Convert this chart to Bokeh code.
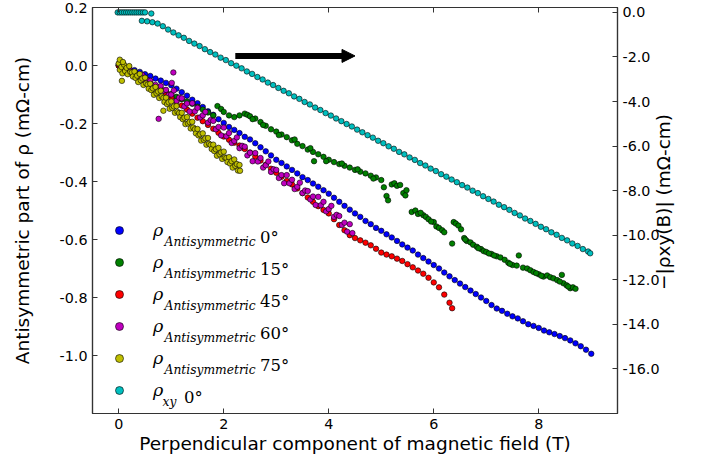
import math
from bokeh.plotting import figure
from bokeh.models import (Range1d, LinearAxis, FixedTicker, PrintfTickFormatter,
                          CustomJSTickFormatter, Legend, LegendItem, Label, Arrow, NormalHead)
from bokeh.embed import file_html
from bokeh.resources import INLINE

# ---------------- data ----------------
X_TICKS = [0, 2, 4, 6, 8]
LEFT_TICKS = [0.2, 0.0, -0.2, -0.4, -0.6, -0.8, -1.0]
RIGHT_TICKS = [0, -2, -4, -6, -8, -10, -12, -14, -16]

BLUE_X = [0.0, 0.1, 0.2, 0.3, 0.4, 0.5, 0.6, 0.7, 0.8, 0.9,
          1.0, 1.1, 1.2, 1.3, 1.4, 1.5, 1.6, 1.7, 1.8, 1.9,
          2.0, 2.1, 2.2, 2.3, 2.4, 2.5, 2.6, 2.7, 2.8, 2.9,
          3.0, 3.1, 3.2, 3.3, 3.4, 3.5, 3.6, 3.7, 3.8, 3.9,
          4.0, 4.1, 4.2, 4.3, 4.4, 4.5, 4.6, 4.7, 4.8, 4.9,
          5.0, 5.1, 5.2, 5.3, 5.4, 5.5, 5.6, 5.7, 5.8, 5.9,
          6.0, 6.1, 6.2, 6.3, 6.4, 6.5, 6.6, 6.7, 6.8, 6.9,
          7.0, 7.1, 7.2, 7.3, 7.4, 7.5, 7.6, 7.7, 7.8, 7.9,
          8.0, 8.1, 8.2, 8.3, 8.4, 8.5, 8.6, 8.7, 8.8, 8.9, 9.0]
BLUE_Y = [0.000, -0.004, -0.010, -0.016, -0.022, -0.030, -0.036, -0.045, -0.052, -0.060,
          -0.068, -0.080, -0.092, -0.104, -0.118, -0.130, -0.143, -0.158, -0.170, -0.185,
          -0.198, -0.212, -0.222, -0.233, -0.246, -0.255, -0.268, -0.282, -0.296, -0.310,
          -0.325, -0.336, -0.348, -0.360, -0.372, -0.385, -0.395, -0.407, -0.418, -0.430,
          -0.442, -0.456, -0.470, -0.484, -0.497, -0.510, -0.522, -0.536, -0.547, -0.560,
          -0.570, -0.582, -0.593, -0.605, -0.617, -0.628, -0.638, -0.652, -0.664, -0.676,
          -0.688, -0.700, -0.714, -0.727, -0.740, -0.752, -0.764, -0.776, -0.788, -0.800,
          -0.812, -0.826, -0.838, -0.846, -0.856, -0.865, -0.872, -0.882, -0.892, -0.898,
          -0.905, -0.914, -0.920, -0.926, -0.933, -0.940, -0.948, -0.958, -0.968, -0.980, -0.994]

GREEN_X = [0.0, 0.1, 0.2, 0.3, 0.4, 0.5, 0.6, 0.7, 0.8, 0.9,
           1.0, 1.1, 1.2, 1.3, 1.4, 1.5, 1.6, 1.7, 1.8, 1.88,
           1.95, 2.0, 2.1, 2.2, 2.3, 2.4, 2.45, 2.5, 2.6, 2.7,
           2.8, 2.9, 3.0, 3.1, 3.2, 3.3, 3.4, 3.5, 3.6, 3.7,
           3.72, 3.8, 3.9, 4.0, 4.1, 4.2, 4.3, 4.4, 4.5, 4.6,
           4.7, 4.8, 4.9, 5.0, 5.05, 5.1, 5.13, 5.2, 5.25, 5.3,
           5.36, 5.42, 5.46, 5.48, 5.58, 5.65, 5.7, 5.8, 5.85, 5.9,
           6.0, 6.05, 6.1, 6.16, 6.2, 6.35, 6.38, 6.42, 6.47, 6.52,
           6.58, 6.63, 6.7, 6.75, 6.82, 6.9, 6.95, 7.0, 7.1, 7.2,
           7.27, 7.35, 7.42, 7.5, 7.58, 7.62, 7.7, 7.78, 7.84, 7.9,
           8.0, 8.09, 8.16, 8.22, 8.28, 8.35, 8.44, 8.47, 8.53, 8.6,
           8.65, 8.7,
           2.55, 2.75, 3.05, 3.35, 3.65, 3.95, 4.25, 4.55, 4.85, 5.75,
           5.95, 6.6, 6.85, 7.05, 7.15, 7.45, 7.95, 8.05, 8.4, 8.56]
GREEN_Y = [0.000, -0.008, -0.018, -0.028, -0.040, -0.050, -0.060, -0.072, -0.082, -0.090,
           -0.098, -0.108, -0.116, -0.124, -0.132, -0.142, -0.152, -0.162, -0.172, -0.140,
           -0.150, -0.160, -0.172, -0.178, -0.172, -0.166, -0.170, -0.175, -0.183, -0.195,
           -0.208, -0.220, -0.228, -0.238, -0.247, -0.258, -0.270, -0.278, -0.290, -0.298,
           -0.330, -0.306, -0.315, -0.325, -0.333, -0.340, -0.346, -0.352, -0.360, -0.366,
           -0.372, -0.380, -0.386, -0.395, -0.420, -0.450, -0.465, -0.410, -0.406, -0.415,
           -0.412, -0.440, -0.448, -0.430, -0.505, -0.500, -0.512, -0.516, -0.522, -0.530,
           -0.540, -0.555, -0.560, -0.568, -0.575, -0.614, -0.540, -0.545, -0.552, -0.565,
           -0.595, -0.605, -0.610, -0.618, -0.625, -0.633, -0.640, -0.643, -0.650, -0.658,
           -0.662, -0.670, -0.680, -0.688, -0.690, -0.655, -0.697, -0.700, -0.706, -0.712,
           -0.720, -0.728, -0.724, -0.730, -0.734, -0.740, -0.722, -0.751, -0.758, -0.768,
           -0.765, -0.770,
           -0.185, -0.205, -0.240, -0.255, -0.285, -0.330, -0.338, -0.358, -0.390, -0.508,
           -0.538, -0.600, -0.630, -0.648, -0.655, -0.684, -0.716, -0.725, -0.745, -0.762]

RED_X = [0.0, 0.1, 0.2, 0.3, 0.4, 0.5, 0.6, 0.7, 0.8, 0.9,
         1.0, 1.1, 1.2, 1.3, 1.4, 1.5, 1.6, 1.7, 1.8, 1.9,
         2.0, 2.1, 2.2, 2.3, 2.4, 2.5, 2.6, 2.7, 2.8, 2.9,
         3.0, 3.1, 3.2, 3.3, 3.4, 3.5, 3.6, 3.7, 3.8, 3.9,
         4.0, 4.1, 4.2, 4.3, 4.4, 4.5, 4.6, 4.7, 4.8, 4.9,
         5.0, 5.1, 5.2, 5.3, 5.4, 5.5, 5.6, 5.7, 5.8, 5.9,
         6.0, 6.1, 6.2, 6.3, 6.35]
RED_Y = [0.000, -0.010, -0.020, -0.030, -0.040, -0.050, -0.062, -0.074, -0.086, -0.098,
         -0.110, -0.124, -0.138, -0.152, -0.166, -0.180, -0.192, -0.205, -0.218, -0.232,
         -0.245, -0.256, -0.266, -0.276, -0.288, -0.300, -0.314, -0.328, -0.342, -0.356,
         -0.370, -0.384, -0.398, -0.410, -0.424, -0.440, -0.455, -0.470, -0.485, -0.498,
         -0.510, -0.530, -0.550, -0.568, -0.585, -0.595, -0.603, -0.611, -0.620, -0.632,
         -0.645, -0.652, -0.658, -0.666, -0.674, -0.685, -0.696, -0.707, -0.718, -0.732,
         -0.748, -0.765, -0.790, -0.818, -0.837]

MAGENTA_X = [0.00, 0.05, 0.10, 0.15, 0.20, 0.25, 0.30, 0.35, 0.40, 0.45,
             0.50, 0.55, 0.60, 0.65, 0.70, 0.75, 0.80, 0.85, 0.90, 0.95,
             1.00, 1.05, 1.10, 1.15, 1.20, 1.25, 1.30, 1.35, 1.40, 1.45,
             1.50, 1.55, 1.60, 1.65, 1.70, 1.75, 1.80, 1.85, 1.90, 1.95,
             2.00, 2.05, 2.10, 2.15, 2.20, 2.25, 2.30, 2.35, 2.40, 2.45,
             2.50, 2.55, 2.60, 2.65, 2.70, 2.75, 2.80, 2.85, 2.90, 2.95,
             3.00, 3.05, 3.10, 3.15, 3.20, 3.25, 3.30, 3.35, 3.40, 3.45,
             3.50, 3.55, 3.60, 3.65, 3.70, 3.75, 3.80, 3.85, 3.90, 3.95,
             4.00, 4.05, 4.10, 4.15, 4.20, 4.25, 4.30, 4.35, 4.40, 4.45,
             1.04, 1.01, 0.76]
MAGENTA_Y = [0.005, -0.011, -0.008, -0.023, -0.011, -0.027, -0.023, -0.041, -0.038, -0.033,
             -0.053, -0.050, -0.053, -0.070, -0.067, -0.083, -0.071, -0.087, -0.084, -0.102,
             -0.100, -0.086, -0.122, -0.111, -0.113, -0.141, -0.131, -0.159, -0.130, -0.158,
             -0.146, -0.179, -0.172, -0.160, -0.197, -0.188, -0.191, -0.220, -0.212, -0.241,
             -0.214, -0.244, -0.233, -0.267, -0.260, -0.248, -0.285, -0.277, -0.280, -0.310,
             -0.301, -0.330, -0.302, -0.331, -0.319, -0.352, -0.344, -0.331, -0.367, -0.358,
             -0.360, -0.388, -0.378, -0.406, -0.378, -0.406, -0.394, -0.426, -0.418, -0.404,
             -0.440, -0.431, -0.433, -0.462, -0.452, -0.481, -0.453, -0.482, -0.470, -0.503,
             -0.495, -0.484, -0.522, -0.515, -0.519, -0.550, -0.542, -0.573, -0.547, -0.578,
             -0.024, -0.060, -0.184]

YELLOW_X = [0.00, 0.02, 0.05, 0.07, 0.10, 0.12, 0.15, 0.17, 0.20, 0.22,
            0.25, 0.27, 0.30, 0.32, 0.35, 0.37, 0.40, 0.42, 0.45, 0.47,
            0.50, 0.52, 0.55, 0.57, 0.60, 0.62, 0.65, 0.67, 0.70, 0.72,
            0.75, 0.77, 0.80, 0.82, 0.85, 0.87, 0.90, 0.92, 0.95, 0.97,
            1.00, 1.02, 1.05, 1.07, 1.10, 1.12, 1.15, 1.17, 1.20, 1.22,
            1.25, 1.27, 1.30, 1.32, 1.35, 1.37, 1.40, 1.42, 1.45, 1.47,
            1.50, 1.52, 1.55, 1.57, 1.60, 1.62, 1.65, 1.67, 1.70, 1.72,
            1.75, 1.77, 1.80, 1.82, 1.85, 1.87, 1.90, 1.92, 1.95, 1.97,
            2.00, 2.02, 2.05, 2.07, 2.10, 2.12, 2.15, 2.17, 2.20, 2.22,
            2.25, 2.27, 2.30, 2.31,
            0.06, 0.85, 0.02, 0.08]
YELLOW_Y = [0.007, -0.015, -0.005, -0.027, 0.003, -0.019, -0.008, -0.030, -0.002, -0.022,
            -0.024, -0.038, -0.021, -0.043, -0.035, -0.057, -0.029, -0.051, -0.045, -0.067,
            -0.042, -0.062, -0.066, -0.080, -0.063, -0.085, -0.079, -0.101, -0.074, -0.096,
            -0.090, -0.112, -0.087, -0.107, -0.112, -0.126, -0.111, -0.133, -0.127, -0.149,
            -0.124, -0.146, -0.141, -0.163, -0.140, -0.160, -0.164, -0.178, -0.163, -0.185,
            -0.180, -0.202, -0.178, -0.200, -0.195, -0.217, -0.194, -0.214, -0.220, -0.234,
            -0.219, -0.241, -0.237, -0.259, -0.234, -0.256, -0.251, -0.273, -0.250, -0.270,
            -0.274, -0.288, -0.273, -0.295, -0.289, -0.311, -0.284, -0.306, -0.300, -0.322,
            -0.297, -0.317, -0.319, -0.333, -0.316, -0.338, -0.330, -0.352, -0.324, -0.346,
            -0.340, -0.362, -0.343, -0.363,
            -0.053, -0.156, 0.020, 0.012]

# rho_xy on the right axis (mOhm-cm)
CYAN_X = [-0.02, 0.02, 0.06, 0.10, 0.14, 0.18, 0.22, 0.26, 0.30, 0.34, 0.38, 0.42, 0.46, 0.50,
          0.62,
          0.44, 0.54, 0.64, 0.74, 0.84, 0.94,
          1.04, 1.14, 1.24, 1.34, 1.44, 1.54, 1.64, 1.74, 1.84, 1.94,
          2.04, 2.14, 2.24, 2.34, 2.44, 2.54, 2.64, 2.74, 2.84, 2.94,
          3.04, 3.14, 3.24, 3.34, 3.44, 3.54, 3.64, 3.74, 3.84, 3.94,
          4.04, 4.14, 4.24, 4.34, 4.44, 4.54, 4.64, 4.74, 4.84, 4.94,
          5.04, 5.14, 5.24, 5.34, 5.44, 5.54, 5.64, 5.74, 5.84, 5.94,
          6.04, 6.14, 6.24, 6.34, 6.44, 6.54, 6.64, 6.74, 6.84, 6.94,
          7.04, 7.14, 7.24, 7.34, 7.44, 7.54, 7.64, 7.74, 7.84, 7.94,
          8.04, 8.14, 8.24, 8.34, 8.44, 8.54, 8.64, 8.74, 8.84, 8.94, 8.98]
CYAN_Y = [0.0, 0.0, 0.0, 0.0, 0.0, 0.0, 0.0, 0.0, 0.0, 0.0, 0.0, 0.0, 0.0, 0.0,
          -0.05,
          -0.38, -0.40, -0.44, -0.50, -0.62, -0.77,
          -0.90, -1.03, -1.14, -1.28, -1.40, -1.51, -1.65, -1.78, -1.89, -2.03,
          -2.14, -2.28, -2.39, -2.51, -2.65, -2.76, -2.90, -3.01, -3.15, -3.26,
          -3.39, -3.52, -3.63, -3.77, -3.88, -4.02, -4.13, -4.27, -4.38, -4.52,
          -4.63, -4.76, -4.88, -5.01, -5.12, -5.26, -5.38, -5.51, -5.62, -5.76,
          -5.87, -6.01, -6.12, -6.26, -6.37, -6.51, -6.62, -6.76, -6.87, -7.01,
          -7.12, -7.26, -7.37, -7.50, -7.62, -7.75, -7.86, -8.00, -8.11, -8.25,
          -8.37, -8.49, -8.63, -8.74, -8.86, -9.00, -9.11, -9.25, -9.36, -9.49,
          -9.62, -9.73, -9.87, -9.98, -10.12, -10.23, -10.37, -10.48, -10.62, -10.73, -10.81]

LEGEND_SUB = ["Antisymmetric", "Antisymmetric", "Antisymmetric", "Antisymmetric", "Antisymmetric", "xy"]
LEGEND_ANGLE = ["0°", "15°", "45°", "60°", "75°", "0°"]
COLORS = ["#0000ff", "#008000", "#ff0000", "#bf00bf", "#bfbf00", "#00bfbf"]
RIGHT_TITLE = "−|ρxy(B)| (mΩ-cm)"

ARROW_X0, ARROW_X1, ARROW_Y = 2.22, 4.5, 0.033

# ---------------- layout ----------------
W, H = 716, 457
FL, FR, FT, FB = 92, 617, 7, 413
XR = (-0.5, 9.5)
YR = (-1.2, 0.2)
RR = (-18.0, 0.22)
SPINE = "#333333"
SANS = "DejaVu Sans"
SERIF = "DejaVu Serif"

p = figure(width=W, height=H, x_range=Range1d(*XR), y_range=Range1d(*YR),
           output_backend="svg", toolbar_location=None,
           min_border_left=FL, min_border_right=W - FR, min_border_top=FT, min_border_bottom=H - FB)
p.extra_y_ranges = {"right": Range1d(*RR)}
p.xgrid.visible = False
p.ygrid.visible = False
p.outline_line_color = SPINE
p.outline_line_width = 1.2
p.background_fill_color = "white"
p.border_fill_color = "white"


def style_axis(ax):
    ax.axis_line_color = SPINE
    ax.axis_line_width = 1.2
    ax.major_tick_line_color = SPINE
    ax.major_tick_line_width = 1.0
    ax.major_tick_in = 5
    ax.major_tick_out = 0
    ax.minor_tick_line_color = None
    ax.major_label_text_font = SANS
    ax.major_label_text_font_size = "14.3px"
    ax.major_label_text_color = "black"
    ax.axis_label_text_font = SANS
    ax.axis_label_text_font_size = "18.5px"
    ax.axis_label_text_font_style = "normal"
    ax.axis_label_text_color = "black"
    ax.major_label_standoff = 5


def px_x(px):
    return XR[0] + (px - FL) / (FR - FL) * (XR[1] - XR[0])


def px_y(py):
    return YR[1] - (py - FT) / (FB - FT) * (YR[1] - YR[0])


xa = p.xaxis[0]
style_axis(xa)
xa.ticker = FixedTicker(ticks=X_TICKS)
xa.axis_label = "Perpendicular component of magnetic field (T)"
xa.axis_label_standoff = 1

ya = p.yaxis[0]
style_axis(ya)
ya.ticker = FixedTicker(ticks=LEFT_TICKS)
ya.formatter = PrintfTickFormatter(format="%.1f")
ya.axis_label = "Antisymmetric part of ρ (mΩ-cm)"
ya.axis_label_standoff = 24

ra = LinearAxis(y_range_name="right")
style_axis(ra)
ra.ticker = FixedTicker(ticks=RIGHT_TICKS)
ra.formatter = PrintfTickFormatter(format="%.1f")
props = ra.properties()
if "axis_label_orientation" in props and "axis_label_align" in props:
    # read bottom-to-top like the reference; the rotated label starts at the bottom of the
    # axis, so lead it with no-break spaces to lift the words to the middle of the axis
    ra.axis_label_orientation = math.pi / 2
    ra.axis_label_align = "start"
    ra.axis_label = "\u00a0" * 21 + RIGHT_TITLE
    ra.axis_label_standoff = 1
else:
    ra.axis_label = RIGHT_TITLE
    ra.axis_label_standoff = 2
p.add_layout(ra, "right")

ta = LinearAxis()
style_axis(ta)
ta.ticker = FixedTicker(ticks=X_TICKS)
ta.formatter = CustomJSTickFormatter(code="return ''")
ta.major_label_text_font_size = "0px"
ta.major_label_standoff = 0
p.add_layout(ta, "above")

# ---------------- data marks ----------------
series = [(BLUE_X, BLUE_Y, None), (GREEN_X, GREEN_Y, None), (RED_X, RED_Y, None),
          (MAGENTA_X, MAGENTA_Y, None), (YELLOW_X, YELLOW_Y, None), (CYAN_X, CYAN_Y, "right")]
renderers = []
for (xs, ys, rng), col in zip(series, COLORS):
    kw = dict(size=5.5, fill_color=col, line_color="black", line_width=0.6)
    if rng:
        kw["y_range_name"] = rng
    renderers.append(p.scatter(xs, ys, **kw))

# arrow
p.add_layout(Arrow(end=NormalHead(size=13, fill_color="black", line_color="black", line_width=1),
                   x_start=ARROW_X0, y_start=ARROW_Y, x_end=ARROW_X1, y_end=ARROW_Y,
                   line_width=6, line_color="black"))

# ---------------- legend ----------------
ROW0, PITCH = 230.3, 32
legend = Legend(items=[LegendItem(label="ρ", renderers=[r]) for r in renderers],
                location=(17, FB - (ROW0 - PITCH / 2 + 6 * PITCH)),
                glyph_width=20, glyph_height=PITCH, spacing=0, padding=0,
                label_standoff=24, label_height=20,
                label_text_font=SERIF, label_text_font_style="italic",
                label_text_font_size="17.5px", label_text_color="black",
                border_line_color=None, background_fill_alpha=0)
p.add_layout(legend)

for i, (sub, ang) in enumerate(zip(LEGEND_SUB, LEGEND_ANGLE)):
    base = ROW0 + 6.4 + i * PITCH
    sub_x = 164 if sub != "xy" else 162
    ang_x = 259.5 if sub != "xy" else 183.5
    p.add_layout(Label(x=px_x(sub_x), y=px_y(base + 4.6), text=sub,
                       text_font=SERIF, text_font_style="italic", text_font_size="12.3px",
                       text_baseline="alphabetic", text_color="black"))
    p.add_layout(Label(x=px_x(ang_x), y=px_y(base), text=ang,
                       text_font=SERIF, text_font_size="16.5px",
                       text_baseline="alphabetic", text_color="black"))

open("out.html", "w").write(file_html(p, INLINE))
